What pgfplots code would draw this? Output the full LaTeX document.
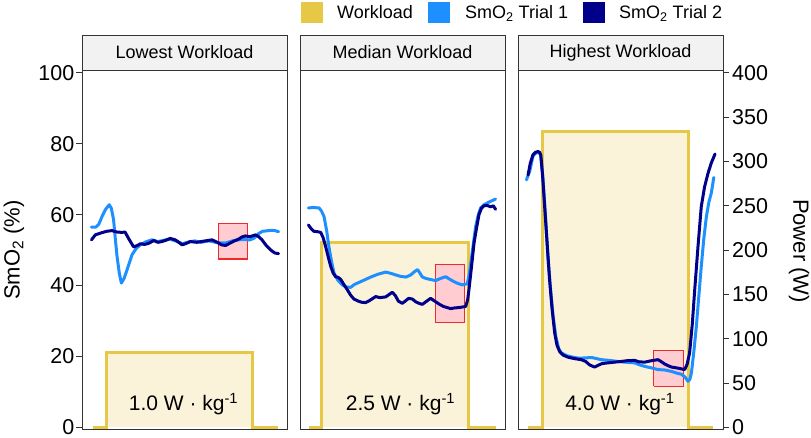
\documentclass[border=0pt]{standalone}
\usepackage{fontspec}
\setmainfont{Liberation Sans}
\usepackage{pgfplots}
\pgfplotsset{compat=1.18}
\definecolor{wl}{HTML}{E6C846}
\definecolor{wlfill}{HTML}{FAF3DA}
\definecolor{tA}{HTML}{1E8FFF}
\definecolor{tB}{HTML}{00008B}
\definecolor{boxf}{HTML}{FFCCD1}
\definecolor{boxd}{HTML}{EE2A2A}
\definecolor{stripf}{HTML}{F2F2F2}
\definecolor{frame}{HTML}{333333}
\newcommand\tickfont{\fontsize{21.5}{24}\selectfont}
\newcommand\wfont{\fontsize{21}{24}\selectfont}
\pgfplotsset{
 panel/.style={scale only axis, width=205pt, height=359pt, xmin=0, xmax=100,
   ymin=-0.45, ymax=100.8, xtick=\empty, ytick=\empty,
   axis line style={draw=frame, line width=0.9pt}, axis on top, anchor=south west},
 wlline/.style={draw=wl, line width=3pt, line join=miter},
 wlarea/.style={fill=wlfill, draw=none},
 rbox/.style={fill=boxf, draw=boxd, line width=1.1pt, line join=miter},
 trA/.style={draw=tA, line width=3pt, line join=round, line cap=round},
 trB/.style={draw=tB, line width=3pt, line join=round, line cap=round},
}
\begin{document}
\begin{tikzpicture}
\useasboundingbox (0pt,0pt) rectangle (811pt,438pt);
% ---------- Left panel
\begin{axis}[panel, at={(82pt,9pt)}, ytick={0,20,...,100}, ytick pos=left,
  tick align=outside, major tick length=5.5pt, tick style={draw=frame, line width=0.9pt},
  yticklabel style={font=\tickfont, inner sep=2pt}, /pgf/number format/assume math mode=true]
\addplot[wlarea] coordinates {(12,0)(12,21)(83.1,21)(83.1,0)};
\addplot[wlline] coordinates {(5.2,0)(12,0)(12,21)(83.1,21)(83.1,0)(95.5,0)};
\addplot[rbox] coordinates {(66.5,47.5)(80.8,47.5)(80.8,57.6)(66.5,57.6)(66.5,47.5)};
\addplot[trA] coordinates {(4.6,56.5)(6.8,56.5)(8.2,57.3)(9.8,59.5)(11.5,61.5)(13.3,62.8)(14.3,61.8)(15.4,58.6)(16.2,53.5)(17.1,48.2)(18.2,43.5)(19.2,40.7)(20.5,42.0)(22,44.5)(24.4,48.7)(26.5,50.5)(28.5,51.5)(31,52.3)(34.1,52.9)(37,52.4)(40,52.8)(43,53.1)(46,52.5)(49,51.8)(52,52.3)(55,52.6)(58,52.2)(62,52.6)(66,52.1)(70,52.0)(74,52.7)(78,53.0)(82,52.9)(84,53.4)(86,54.6)(88,55.3)(91,55.5)(93.5,55.6)(95.9,55.2)};
\addplot[trB] coordinates {(4.6,52.9)(6.5,54.3)(9,54.8)(12,55.3)(14.6,55.5)(17,55.1)(19.5,55.0)(21,55.1)(23,53.0)(25.2,50.9)(27,51.3)(28.5,51.8)(30.5,51.6)(32.5,51.9)(35,52.7)(37,52.2)(39,52.4)(41,52.8)(43,53.3)(45.5,52.9)(47,52.3)(48.8,51.5)(50.5,51.8)(52.8,52.4)(56,52.2)(59,52.5)(63.4,52.9)(66,52.2)(68,51.5)(70,51.3)(72,51.9)(74,52.5)(76.4,53.1)(78,53.7)(79.7,54.0)(82,53.8)(84.6,54.3)(86.2,53.8)(87.8,52.9)(90,51.2)(91.9,50.1)(94,49.2)(95.9,49.0)};
\node[anchor=base, font=\wfont, inner sep=0pt] at (axis cs:49.5,4.7) {1.0 W · kg\textsuperscript{-1}};
\end{axis}
% ---------- Middle panel
\begin{axis}[panel, at={(300pt,9pt)}]
\addplot[wlarea] coordinates {(10.6,0)(10.6,52.1)(82.4,52.1)(82.4,0)};
\addplot[wlline] coordinates {(4.4,0)(10.6,0)(10.6,52.1)(82.4,52.1)(82.4,0)(95.5,0)};
\addplot[rbox] coordinates {(65.9,29.7)(80.3,29.7)(80.3,45.9)(65.9,45.9)(65.9,29.7)};
\addplot[trA] coordinates {(4.1,61.9)(6.5,62.0)(9.3,61.9)(10.5,61.0)(11.7,59.5)(13,55.5)(14.1,51.0)(15.3,47)(16.6,43.5)(18.5,41.5)(20.6,40.2)(22.5,39.6)(24.7,39.5)(26.5,40.3)(28.8,40.9)(31.5,41.6)(34.5,42.4)(38,43.2)(41.8,43.8)(44,43.5)(46.7,43.0)(49,42.6)(51.7,42.4)(54,43.0)(56,44.0)(57.4,44.5)(58.5,43.5)(59.7,42.4)(61.5,42.0)(63,41.8)(66.2,41.4)(68.5,42.0)(71.1,42.5)(73,41.8)(75.1,41.1)(77,40.6)(79.2,40.2)(81.6,40.5)(82.5,43)(83.3,46.3)(84.5,51.5)(85.7,56.7)(87,60)(88.1,61.9)(89.8,62.8)(91.4,63.3)(93.5,63.9)(95.4,64.4)};
\addplot[trB] coordinates {(4.1,57.1)(5.5,56.0)(6.8,55.3)(8.5,55.2)(10.1,55.0)(11.3,53.5)(12.5,51.0)(13.8,48.0)(15.0,45.4)(16.2,43.5)(17.4,42.5)(18.6,42.3)(19.8,41.8)(21.5,40.2)(23.1,38.8)(24.7,37.3)(26.3,36.2)(28.5,35.6)(30,35.3)(32.0,35.2)(34,35.8)(36.9,36.9)(39,36.6)(41.8,36.8)(43.5,37.5)(45.0,38.1)(46.5,37.2)(48,35.6)(49.9,35.0)(51.5,35.7)(53,36.4)(54.8,36.2)(56.5,35.4)(58,35.0)(59.7,34.7)(61.8,35.6)(63.7,36.4)(65.5,35.7)(67.8,34.8)(70,34.1)(73.5,33.5)(75.5,33.7)(77.6,33.8)(80.8,34.1)(81.8,36)(82.4,38.8)(83.6,45)(84.9,52.0)(86.2,56.5)(87.3,60.0)(88.5,61.8)(89.8,62.5)(91.3,62.6)(93,62.2)(94.3,62.5)(95.4,61.5)};
\node[anchor=base, font=\wfont, inner sep=0pt] at (axis cs:49,4.7) {2.5 W · kg\textsuperscript{-1}};
\end{axis}
% ---------- Right panel
\begin{axis}[panel, at={(518pt,9pt)}]
\addplot[wlarea] coordinates {(12,0)(12,83.4)(83.1,83.4)(83.1,0)};
\addplot[wlline] coordinates {(4.9,0)(12,0)(12,83.4)(83.1,83.4)(83.1,0)(95.1,0)};
\addplot[rbox] coordinates {(66.3,11.6)(80.8,11.6)(80.8,21.6)(66.3,21.6)(66.3,11.6)};
\addplot[trA] coordinates {(4.1,69.8)(5.7,72.2)(7.3,76.5)(8.5,77.3)(9.8,77.6)(10.5,77.4)(11.1,76.7)(12.2,70)(13.3,60.5)(14.6,48)(15.9,39)(17.2,31)(18.5,25.5)(19.8,22.3)(21.1,21.0)(24,20.2)(27.6,19.7)(30,19.5)(32.5,19.6)(36,19.7)(40.7,19.1)(44.5,18.9)(48.8,18.6)(52,18.4)(56.9,18.2)(59.5,17.6)(61.8,17.2)(65,16.8)(68.3,16.3)(71.5,16.2)(74.8,15.8)(77.5,15.3)(79.7,15.0)(81.5,14.2)(82.9,13.0)(83.8,13.5)(84.6,15.4)(85.8,21.5)(87,28.5)(88.2,37)(89.4,45.4)(90.6,53)(91.9,59.5)(93.1,63.5)(94.3,66.1)(95.5,70.5)};
\addplot[trB] coordinates {(4.9,71.2)(6,74.5)(7.3,76.9)(8.5,77.6)(9.8,77.8)(10.5,77.6)(11.1,76.9)(12,71)(13.0,62.3)(14.2,52)(15.4,41.6)(16.6,33.5)(17.9,26.6)(19,23.2)(20.3,21.4)(22,20.4)(24.4,19.8)(27.5,19.4)(30.9,19.1)(33,18.6)(35,17.6)(37.4,17.0)(39,17.5)(41,18.0)(43.9,18.2)(47,18.4)(50.4,18.6)(53,18.8)(56.9,18.9)(59,18.5)(61.8,18.4)(65,18.8)(68.3,19.1)(70,18.5)(71.5,17.9)(73.2,17.4)(75,17.0)(77.2,16.8)(79,16.6)(81.3,16.3)(82.5,17.8)(83.7,21.0)(85,29)(86.2,38.8)(87.8,51)(89.4,62.3)(91,67.8)(92.7,71.7)(94.3,74.6)(96.1,77.1)};
\node[anchor=base, font=\wfont, inner sep=0pt] at (axis cs:49.7,4.7) {4.0 W · kg\textsuperscript{-1}};
\end{axis}
% ---------- Power axis
\begin{axis}[scale only axis, width=205pt, height=359pt, at={(518pt,9pt)}, anchor=south west,
  xmin=0, xmax=100, ymin=-1.8, ymax=403.2, axis y line*=right, axis x line=none,
  ytick={0,50,...,400}, tick align=outside, major tick length=5.5pt,
  tick style={draw=frame, line width=0.9pt}, axis line style={draw=frame, line width=0.9pt},
  yticklabel style={font=\tickfont, inner sep=2pt, xshift=1.5pt}, /pgf/number format/assume math mode=true]
\end{axis}
% ---------- strips
\draw[fill=stripf, draw=frame, line width=0.9pt] (82pt,368pt) rectangle (287pt,403pt);
\draw[fill=stripf, draw=frame, line width=0.9pt] (300pt,368pt) rectangle (505pt,403pt);
\draw[fill=stripf, draw=frame, line width=0.9pt] (518pt,368pt) rectangle (723pt,403pt);
\node[font=\fontsize{18}{20}\selectfont, inner sep=0pt] at (184.5pt,385.5pt) {Lowest Workload};
\node[font=\fontsize{18}{20}\selectfont, inner sep=0pt] at (402.5pt,385.5pt) {Median Workload};
\node[font=\fontsize{18}{20}\selectfont, inner sep=0pt] at (620.5pt,385.5pt) {Highest Workload};
% ---------- axis titles
\node[rotate=90, font=\fontsize{22}{24}\selectfont, inner sep=0pt] at (14pt,188pt) {SmO\textsubscript{2} (\%)};
\node[rotate=-90, font=\fontsize{22}{24}\selectfont, inner sep=0pt] at (799pt,187pt) {Power (W)};
% ---------- legend
\fill[wl] (301pt,415.3pt) rectangle (323pt,436.3pt);
\fill[tA] (428pt,415.3pt) rectangle (450pt,436.3pt);
\fill[tB] (583pt,415.3pt) rectangle (605pt,436.3pt);
\node[anchor=base west, inner sep=0pt, font=\fontsize{18}{20}\selectfont] at (337pt,419.7pt) {Workload};
\node[anchor=base west, inner sep=0pt, font=\fontsize{18}{20}\selectfont] at (465pt,419.7pt) {SmO\textsubscript{2} Trial 1};
\node[anchor=base west, inner sep=0pt, font=\fontsize{18}{20}\selectfont] at (619pt,419.7pt) {SmO\textsubscript{2} Trial 2};
\end{tikzpicture}
\end{document}
